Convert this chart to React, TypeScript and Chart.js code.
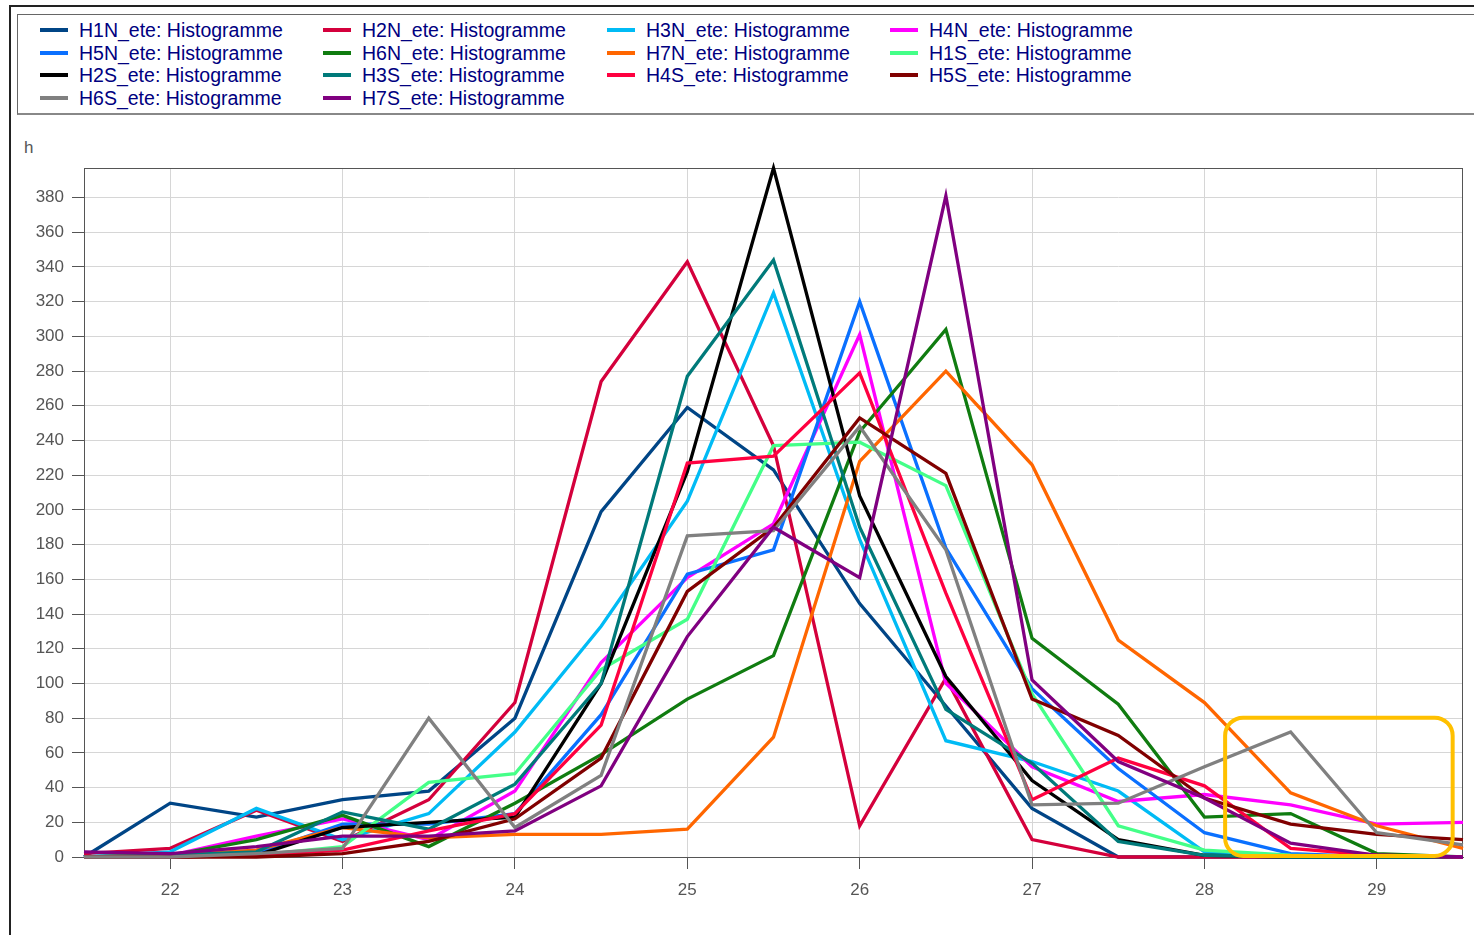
import React, { useEffect, useRef } from "react";
import { Chart, registerables } from "chart.js";

Chart.register(...registerables);

// ---- data ----
const xValues = [21.5, 22, 22.5, 23, 23.5, 24, 24.5, 25, 25.5, 26, 26.5, 27, 27.5, 28, 28.5, 29, 29.5];

const seriesNames = [
  "H1N_ete: Histogramme", "H2N_ete: Histogramme", "H3N_ete: Histogramme", "H4N_ete: Histogramme",
  "H5N_ete: Histogramme", "H6N_ete: Histogramme", "H7N_ete: Histogramme", "H1S_ete: Histogramme",
  "H2S_ete: Histogramme", "H3S_ete: Histogramme", "H4S_ete: Histogramme", "H5S_ete: Histogramme",
  "H6S_ete: Histogramme", "H7S_ete: Histogramme",
];

const seriesColors = [
  "#004586", "#d4003c", "#00bbf5", "#ff00ff",
  "#0a70ff", "#107c10", "#ff6600", "#44ff88",
  "#000000", "#007a7a", "#ff0040", "#800000",
  "#808080", "#800080",
];

const h1n = [0, 31, 23, 33, 38, 80, 199, 259, 223, 146, 87, 28, 0, 0, 0, 0, 0];
const h2n = [2, 5, 27, 9, 33, 89, 274, 343, 237, 18, 103, 10, 0, 0, 0, 0, 0];
const h3n = [0, 3, 28, 10, 25, 72, 133, 205, 325, 183, 67, 55, 38, 3, 0, 0, 0];
const h4n = [0, 1, 12, 22, 10, 38, 112, 161, 192, 301, 100, 52, 32, 36, 30, 19, 20];
const h5n = [0, 0, 2, 19, 19, 25, 82, 163, 177, 320, 178, 97, 51, 14, 2, 0, 0];
const h6n = [0, 1, 10, 24, 6, 31, 59, 91, 116, 245, 304, 126, 88, 23, 25, 2, 0];
const h7n = [0, 1, 4, 17, 11, 13, 13, 16, 69, 228, 280, 226, 125, 89, 37, 18, 5];
const h1s = [0, 0, 1, 6, 43, 48, 108, 137, 237, 239, 214, 94, 18, 4, 1, 0, 0];
const h2s = [0, 0, 1, 17, 20, 23, 100, 222, 397, 208, 104, 44, 10, 1, 0, 0, 0];
const h3s = [0, 1, 3, 26, 16, 42, 100, 277, 344, 190, 85, 54, 9, 1, 0, 0, 0];
const h4s = [0, 0, 1, 4, 15, 25, 76, 227, 231, 279, 152, 33, 57, 41, 5, 1, 0];
const h5s = [0, 0, 0, 2, 9, 22, 57, 153, 190, 253, 221, 91, 70, 34, 19, 13, 10];
const h6s = [0, 0, 2, 5, 80, 17, 47, 185, 188, 248, 177, 30, 31, 52, 72, 14, 7];
const h7s = [3, 2, 6, 12, 12, 15, 41, 127, 190, 161, 381, 102, 55, 34, 8, 1, 0];

const seriesValues = [h1n, h2n, h3n, h4n, h5n, h6n, h7n, h1s, h2s, h3s, h4s, h5s, h6s, h7s];

const xTicks = [22, 23, 24, 25, 26, 27, 28, 29];
const yTicks = [0, 20, 40, 60, 80, 100, 120, 140, 160, 180, 200, 220, 240, 260, 280, 300, 320, 340, 360, 380];
const xMin = 21.5;
const xMax = 29.5;
const yMax = 397;
const yAxisLabel = "h";

// highlighted region (data coordinates)
const highlightX = [28.12, 29.44];
const highlightY = [0.6, 80.3];

// ---- layout ----
const legendCols = 4;
const legendColX = [40, 323, 607, 890];
const legendRowY = [30, 52.5, 75, 97.5];
const FONT = "'Liberation Sans', Arial, sans-serif";

const framePlugin = {
  id: "frameBox",
  beforeDatasetsDraw(chart: any) {
    const { ctx, chartArea: a } = chart;
    ctx.save();
    ctx.strokeStyle = "#555555";
    ctx.lineWidth = 1;
    ctx.strokeRect(a.left + 0.5, a.top + 0.5, a.right - a.left - 1, a.bottom - a.top);
    ctx.restore();
  },
};

const highlightPlugin = {
  id: "highlightBox",
  afterDatasetsDraw(chart: any) {
    const { ctx } = chart;
    const xs = chart.scales.x;
    const ys = chart.scales.y;
    const x0 = xs.getPixelForValue(highlightX[0]);
    const x1 = xs.getPixelForValue(highlightX[1]);
    const y0 = ys.getPixelForValue(highlightY[1]);
    const y1 = ys.getPixelForValue(highlightY[0]);
    ctx.save();
    ctx.strokeStyle = "#ffc000";
    ctx.lineWidth = 4;
    ctx.beginPath();
    ctx.roundRect(x0, y0, x1 - x0, y1 - y0, 18);
    ctx.stroke();
    ctx.restore();
  },
};

export default function App() {
  const canvasRef = useRef<HTMLCanvasElement | null>(null);

  useEffect(() => {
    if (!canvasRef.current) return;
    const n = seriesValues.length;
    const chart = new Chart(canvasRef.current, {
      type: "line",
      data: {
        datasets: seriesValues.map((vals, i) => ({
          label: seriesNames[i],
          data: xValues.map((x, j) => ({ x, y: vals[j] })),
          borderColor: seriesColors[i],
          backgroundColor: seriesColors[i],
          borderWidth: 3.3,
          pointRadius: 0,
          pointHoverRadius: 0,
          tension: 0,
          clip: 6,
          order: n - i,
        })),
      },
      options: {
        animation: false,
        responsive: true,
        maintainAspectRatio: false,
        events: [],
        layout: { padding: { left: 0, top: 48, right: 11, bottom: 3 } },
        plugins: { legend: { display: false }, tooltip: { enabled: false } },
        scales: {
          x: {
            type: "linear",
            min: xMin,
            max: xMax,
            afterBuildTicks: (axis: any) => {
              axis.ticks = xTicks.map((v) => ({ value: v }));
            },
            afterFit: (s: any) => {
              s.height = 60;
            },
            grid: { color: "#d6d6d6", lineWidth: 1, tickColor: "#555555", tickLength: 12 },
            border: { color: "#555555", width: 1 },
            ticks: {
              color: "#555555",
              font: { family: FONT, size: 17 },
              padding: 11,
              maxRotation: 0,
              autoSkip: false,
            },
          },
          y: {
            type: "linear",
            min: 0,
            max: yMax,
            afterBuildTicks: (axis: any) => {
              axis.ticks = yTicks.map((v) => ({ value: v }));
            },
            afterFit: (s: any) => {
              s.width = 74;
            },
            grid: { color: "#d6d6d6", lineWidth: 1, tickColor: "#555555", tickLength: 12 },
            border: { color: "#555555", width: 1 },
            ticks: {
              color: "#555555",
              font: { family: FONT, size: 17 },
              padding: 8,
              autoSkip: false,
            },
          },
        },
      },
      plugins: [framePlugin, highlightPlugin],
    } as any);
    return () => chart.destroy();
  }, []);

  return (
    <div style={{ position: "absolute", left: 0, top: 0, width: 1474, height: 935, overflow: "hidden", background: "#fff", fontFamily: FONT }}>
      <div style={{ position: "absolute", left: 9, top: 5, width: 1500, height: 960, borderTop: "2px solid #222", borderLeft: "2px solid #222" }} />
      <div style={{ position: "absolute", left: 17, top: 14, width: 1500, height: 98, border: "1px solid #666", borderBottom: "2px solid #888", background: "#fff" }} />
      {seriesNames.map((name, i) => {
        const c = i % legendCols;
        const r = Math.floor(i / legendCols);
        return (
          <div key={name} style={{ position: "absolute", left: legendColX[c], top: legendRowY[r] - 11, height: 22, display: "flex", alignItems: "center", whiteSpace: "nowrap" }}>
            <span style={{ display: "inline-block", width: 28, height: 4, background: seriesColors[i], marginRight: 11 }} />
            <span style={{ fontSize: 19.5, lineHeight: "22px", color: "#000080" }}>{name}</span>
          </div>
        );
      })}
      <div style={{ position: "absolute", left: 24, top: 138, fontSize: 17, color: "#555", lineHeight: "20px" }}>{yAxisLabel}</div>
      <div style={{ position: "absolute", left: 10, top: 120, width: 1464, height: 800 }}>
        <canvas ref={canvasRef} />
      </div>
    </div>
  );
}
